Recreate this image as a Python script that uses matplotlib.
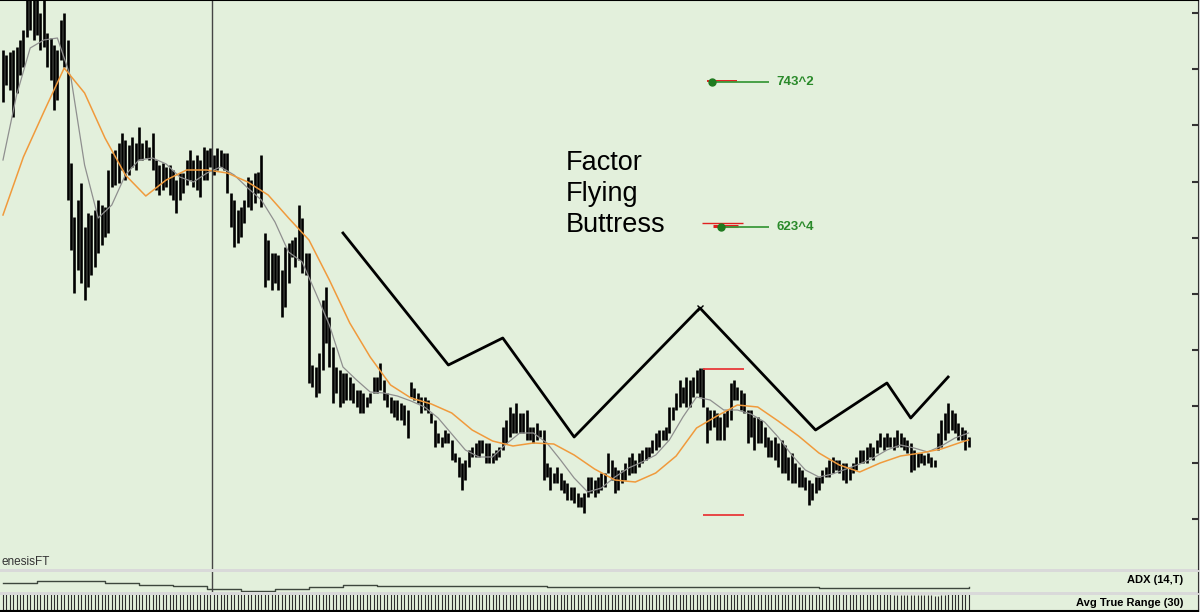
import numpy as np
import pandas as pd
import matplotlib
matplotlib.use('Agg')
import matplotlib.pyplot as plt

plt.rcParams['font.family'] = ['Liberation Sans', 'DejaVu Sans']

# --- price bars: high / low of each session ---
high = [550, 545, 548, 550, 553, 560, 570, 608, 605, 608, 600, 587, 603, 567, 562, 555, 550, 580, 587, 560,
        437, 383, 400, 417, 373, 387, 385, 390, 400, 395, 393, 430, 447, 450, 457, 467, 460, 455, 463, 457,
        473, 457, 460, 453, 467, 440, 435, 437, 433, 435, 430, 420, 427, 427, 440, 450, 440, 445, 440, 453,
        450, 452, 445, 452, 450, 447, 447, 407, 400, 390, 393, 400, 423, 420, 427, 428, 445, 367, 360, 347,
        347, 345, 330, 353, 357, 360, 363, 395, 382, 347, 347, 235, 233, 247, 300, 313, 283, 253, 233, 230,
        227, 227, 223, 217, 210, 210, 207, 203, 207, 223, 223, 237, 220, 207, 203, 200, 200, 197, 195, 190,
        218, 212, 207, 203, 203, 200, 187, 180, 167, 163, 170, 167, 160, 147, 143, 137, 140, 150, 153, 157,
        160, 160, 157, 157, 147, 150, 153, 173, 180, 193, 187, 197, 187, 187, 190, 173, 173, 177, 170, 170,
        137, 133, 127, 133, 127, 120, 117, 113, 113, 107, 103, 107, 123, 123, 120, 123, 127, 127, 147, 140,
        133, 130, 130, 137, 143, 147, 140, 147, 150, 153, 153, 160, 167, 170, 170, 173, 193, 193, 207, 220,
        213, 223, 220, 223, 230, 232, 232, 193, 190, 190, 187, 183, 187, 190, 217, 220, 213, 210, 207, 190,
        190, 183, 183, 180, 173, 163, 160, 163, 157, 160, 155, 143, 147, 137, 133, 130, 123, 120, 117, 123,
        123, 130, 133, 140, 143, 140, 140, 137, 137, 133, 137, 143, 150, 150, 153, 157, 153, 160, 167, 163,
        167, 163, 163, 170, 167, 163, 160, 157, 150, 147, 147, 145, 147, 143, 140, 167, 180, 187, 197, 190,
        187, 177, 173, 170, 163]
low = [498, 515, 510, 483, 507, 525, 533, 563, 570, 560, 565, 550, 553, 533, 520, 490, 500, 540, 533, 400,
       350, 307, 330, 317, 300, 313, 325, 333, 347, 355, 363, 367, 413, 415, 417, 430, 420, 425, 433, 430,
       440, 440, 442, 440, 430, 410, 405, 410, 413, 405, 400, 387, 400, 407, 415, 420, 413, 410, 403, 420,
       420, 433, 425, 430, 433, 430, 407, 373, 353, 357, 363, 377, 393, 390, 397, 407, 393, 313, 320, 310,
       317, 310, 283, 293, 317, 343, 333, 340, 327, 325, 217, 213, 203, 207, 230, 257, 233, 197, 207, 193,
       197, 200, 200, 197, 193, 187, 187, 193, 197, 207, 207, 210, 200, 193, 187, 183, 180, 180, 175, 162,
       203, 200, 197, 187, 190, 187, 177, 153, 157, 153, 157, 157, 140, 138, 123, 110, 120, 133, 143, 143,
       143, 147, 137, 137, 137, 140, 143, 150, 157, 163, 167, 167, 167, 167, 160, 160, 157, 160, 163, 120,
       123, 110, 117, 117, 110, 107, 100, 100, 97, 93, 93, 87, 103, 107, 103, 107, 110, 113, 127, 120,
       107, 110, 117, 120, 125, 127, 127, 133, 137, 140, 143, 147, 150, 153, 160, 160, 167, 180, 190, 193,
       197, 193, 193, 203, 207, 203, 193, 157, 170, 173, 160, 160, 160, 173, 180, 200, 200, 190, 187, 157,
       163, 150, 157, 157, 153, 143, 143, 140, 133, 127, 127, 120, 117, 117, 113, 113, 110, 95, 100, 107,
       110, 117, 123, 123, 127, 130, 127, 120, 117, 120, 127, 130, 137, 137, 137, 143, 140, 147, 153, 150,
       153, 153, 150, 153, 153, 150, 147, 128, 130, 133, 137, 135, 137, 133, 133, 150, 153, 160, 167, 170,
       167, 160, 160, 150, 153]

# --- moving averages at every 6th / 4th bar ---
ma_slow_idx = list(range(0, 285, 6)) + [284]
ma_slow = [385, 443, 488, 532, 507, 462, 425, 404, 420, 430, 430, 427, 418, 405, 382, 360, 320, 277, 243, 215,
           202, 196, 187, 170, 159, 154, 157, 156, 145, 131, 120, 118, 127, 144, 172, 184, 195, 193, 179, 164,
           147, 135, 128, 137, 144, 147, 151, 158, 160]
ma_fast_idx = list(range(0, 285, 4))
ma_fast = [440, 505, 552, 560, 562, 522, 435, 382, 395, 425, 440, 442, 436, 423, 418, 427, 433, 425, 412, 400,
           378, 348, 338, 307, 275, 233, 220, 208, 207, 204, 199, 193, 182, 166, 150, 143, 143, 156, 167, 167,
           157, 140, 122, 108, 112, 123, 132, 138, 145, 160, 183, 203, 200, 190, 190, 186, 178, 163, 145, 130,
           123, 126, 131, 136, 142, 150, 155, 152, 148, 154, 162, 167]

# --- zigzag swing line ---
zz_idx = [100, 131, 147, 168, 205, 239, 260, 267, 278]
zz_price = [367, 235, 262, 163, 292, 170, 217, 182, 223]

# --- projection levels ---
level_price = [518, 373]
level_label = ['743^2', '623^4']
level_start = [208.5, 211.2]
red_price = [519, 377, 374]
red_start = [207, 205.6, 208.8]
red_end = [216, 217.6, 216.2]
red_width = [1.4, 1.0, 2.2]
range_lines = [231, 85]

# --- ADX ---
adx_idx = list(range(0, 285, 10)) + [284]
adx = [28, 32, 32, 28, 25, 22, 16, 12, 16, 20, 24, 23, 22, 22, 22, 22, 21, 21, 20, 20,
       20, 20, 20, 20, 19, 19, 19, 18, 18, 20]

cursor_idx = 61.5

n = len(high)
x = np.arange(n)
bg = '#e3f0dc'

fig = plt.figure(figsize=(12, 6.12), dpi=100)
fig.patch.set_facecolor('#d9d9d9')

# main price panel
ax = fig.add_axes([0, 43 / 612, 1198 / 1200, 569 / 612])
ax.set_facecolor(bg)
ax.vlines(x, low, high, color='black', lw=1.9)
ax.plot(ma_fast_idx, ma_fast, color='#8f8f8f', lw=0.9)
ax.plot(ma_slow_idx, ma_slow, color='#f09a3c', lw=1.1)
ax.plot(zz_idx, zz_price, color='black', lw=2)
ax.plot(zz_idx[4], zz_price[4], marker='x', color='black', ms=4, mew=1)
ax.hlines(range_lines, 206, 218, color='#e8393a', lw=1.3)

for p, s, e, w in zip(red_price, red_start, red_end, red_width):
    ax.hlines(p, s, e, color='#e02020', lw=w)
for p, lab, s in zip(level_price, level_label, level_start):
    ax.hlines(p, s, 225.3, color='#3c9a3c', lw=1.3)
    ax.plot(s, p, 'o', color='#1f7a1f', ms=5)
    ax.text(227.6, p, lab, color='#2a8a2a', fontsize=9.5, weight='bold', va='center')

ax.text(0.4725, 0.737, 'Factor\nFlying\nButtress', transform=ax.transAxes,
        fontsize=19.5, va='top', ha='left', linespacing=1.26)
ax.axvline(cursor_idx, color='#454545', lw=1)

ax.set_xlim(-0.88, 351.5)
ax.set_ylim(31, 600)
ax.set_xticks([])
ax.yaxis.tick_right()
ax.set_yticks([81, 137, 194, 250, 306, 362, 418, 475, 531, 587])
ax.set_yticklabels([])
ax.tick_params(axis='y', direction='in', length=4, width=1.5, color='#333333')
for side in ['left', 'bottom']:
    ax.spines[side].set_visible(False)
ax.spines['right'].set_color('#333333')
ax.spines['top'].set_color('black')
ax.spines['top'].set_linewidth(1.5)

fig.text(1 / 1200, 1 - 562 / 612, 'enesisFT', fontsize=8.5, color='#333333', va='center')

# ADX panel
ax2 = fig.add_axes([0, 20 / 612, 1198 / 1200, 20 / 612])
ax2.set_facecolor(bg)
ax2.plot(adx_idx, adx, color='#3d473d', lw=1, drawstyle='steps-post')
ax2.axvline(cursor_idx, color='#454545', lw=1)
ax2.set_xlim(-0.88, 351.5)
ax2.set_ylim(10, 50)
ax2.set_xticks([])
ax2.set_yticks([])
for side in ['left', 'bottom', 'top']:
    ax2.spines[side].set_visible(False)
ax2.spines['right'].set_color('#333333')
fig.text(1183 / 1200, 1 - 580 / 612, 'ADX (14,T)', fontsize=8, weight='bold', ha='right', va='center')

# ATR panel
atr = pd.Series(np.array(high) - np.array(low)).rolling(30, min_periods=1).mean()
ax3 = fig.add_axes([0, 1 / 612, 1198 / 1200, 16 / 612])
ax3.set_facecolor(bg)
ax3.vlines(x, 0, atr, color='#2e2e2e', lw=0.8)
ax3.set_xlim(-0.88, 351.5)
ax3.set_ylim(0, atr.min() * 1.05)
ax3.set_xticks([])
ax3.set_yticks([])
for side in ['left', 'top']:
    ax3.spines[side].set_visible(False)
ax3.spines['bottom'].set_color('black')
ax3.spines['bottom'].set_linewidth(1.5)
ax3.spines['right'].set_color('#333333')
fig.text(1183 / 1200, 1 - 603 / 612, 'Avg True Range (30)', fontsize=8, weight='bold', ha='right', va='center')

fig.savefig('out.png', dpi=100, facecolor=fig.get_facecolor())
